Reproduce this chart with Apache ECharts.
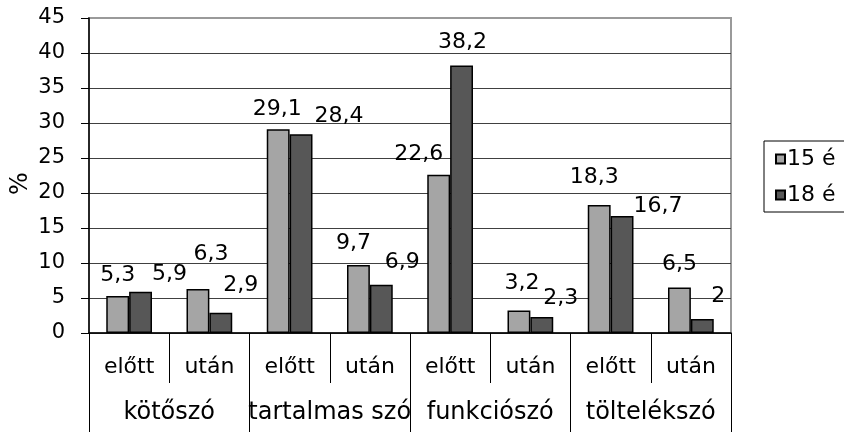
<!DOCTYPE html>
<html>
<head>
<meta charset="utf-8">
<script src="https://cdn.jsdelivr.net/npm/echarts@6/dist/echarts.min.js"></script>
<style>
  html, body { margin: 0; padding: 0; background: #fff; }
  #chart { width: 844px; height: 432px; }
</style>
</head>
<body>
<div id="chart"></div>
<script>
// Sub-categories (inner axis row) and their groups (outer axis row)
const subLabels = ['előtt', 'után', 'előtt', 'után', 'előtt', 'után', 'előtt', 'után'];
const groupLabels = ['kötőszó', 'tartalmas szó', 'funkciószó', 'töltelékszó'];

// Percentages per age group
const seriesNames = ['15 é', '18 é'];
const values15 = [5.3, 6.3, 29.1, 9.7, 22.6, 3.2, 18.3, 6.5];
const values18 = [5.9, 2.9, 28.4, 6.9, 38.2, 2.3, 16.7, 2];

// Y axis range
const yMin = 0, yMax = 45, yStep = 5;

// Per-label nudges [dx, dy] so the value labels sit where the layout wants them
const labelNudge15 = [[0, 0], [13, -14], [-1, 1], [-5, -1], [-20, 0], [3, -6], [-5, -7], [0, -2]];
const labelNudge18 = [[29, 4], [20, -6], [38, 3], [21, -1], [1, -2], [19, 2], [36, 11], [16, -2]];

const FONT = 'DejaVu Sans';
const fmt = v => String(v).replace('.', ',');

function buildData(values, nudges) {
  return values.map((v, i) => ({ value: v, label: { offset: nudges[i] } }));
}

// Gridlines are dark, the top one (plot border) lighter
const splitColors = [];
for (let v = yMin; v <= yMax; v += yStep) splitColors.push(v === yMax ? '#9a9a9a' : '#404040');

const chart = echarts.init(document.getElementById('chart'), null, { renderer: 'canvas' });

const barLabel = {
  show: true,
  position: 'top',
  distance: 10,
  fontFamily: FONT,
  fontSize: 22,
  color: '#000',
  formatter: p => fmt(p.value)
};

chart.setOption({
  animation: false,
  backgroundColor: '#fff',
  grid: {
    left: 89, right: 113, top: 18, bottom: 99,
    outerBoundsMode: 'none',
    containLabel: false,
    show: true, borderColor: '#9a9a9a', borderWidth: 2, backgroundColor: 'transparent'
  },
  legend: {
    orient: 'vertical',
    left: 764, top: 141,
    padding: [7, 40, 6, 11],
    itemGap: 14,
    itemWidth: 9, itemHeight: 9,
    borderColor: '#000', borderWidth: 1,
    icon: 'rect',
    textStyle: { fontFamily: FONT, fontSize: 22, color: '#000', padding: [0, 0, 0, -3] },
    data: seriesNames
  },
  xAxis: [
    {
      type: 'category',
      data: subLabels,
      position: 'bottom',
      axisLine: { show: true, lineStyle: { color: '#000', width: 1.5 } },
      axisTick: { show: true, interval: 0, length: 50, lineStyle: { color: '#000', width: 1 } },
      axisLabel: { interval: 0, margin: 23, fontFamily: FONT, fontSize: 22, color: '#000' },
      splitLine: { show: false }
    },
    {
      type: 'category',
      data: groupLabels,
      position: 'bottom',
      axisLine: { show: false },
      axisTick: { show: true, interval: 0, length: 100, lineStyle: { color: '#000', width: 1 } },
      axisLabel: { interval: 0, margin: 68, fontFamily: FONT, fontSize: 24, color: '#000' },
      splitLine: { show: false }
    }
  ],
  yAxis: {
    type: 'value',
    min: yMin, max: yMax, interval: yStep,
    name: '%',
    nameLocation: 'middle',
    nameGap: 56,
    nameMoveOverlap: false,
    nameTextStyle: { fontFamily: FONT, fontSize: 24, color: '#000', padding: [0, 0, 0, -16] },
    axisLine: { show: true, lineStyle: { color: '#000', width: 1.5 } },
    axisTick: { show: true, length: 8, lineStyle: { color: '#000' } },
    axisLabel: { margin: 24, fontFamily: FONT, fontSize: 21, color: '#000' },
    splitLine: { show: true, lineStyle: { color: splitColors, width: 1 } }
  },
  series: [
    {
      name: seriesNames[0],
      type: 'bar',
      xAxisIndex: 0,
      data: buildData(values15, labelNudge15),
      barGap: '0%',
      barCategoryGap: '43%',
      itemStyle: { color: '#a5a5a5', borderColor: '#000', borderWidth: 1.5 },
      label: barLabel
    },
    {
      name: seriesNames[1],
      type: 'bar',
      xAxisIndex: 0,
      data: buildData(values18, labelNudge18),
      barGap: '0%',
      barCategoryGap: '43%',
      itemStyle: { color: '#575757', borderColor: '#000', borderWidth: 1.5 },
      label: barLabel
    }
  ]
});
</script>
</body>
</html>
